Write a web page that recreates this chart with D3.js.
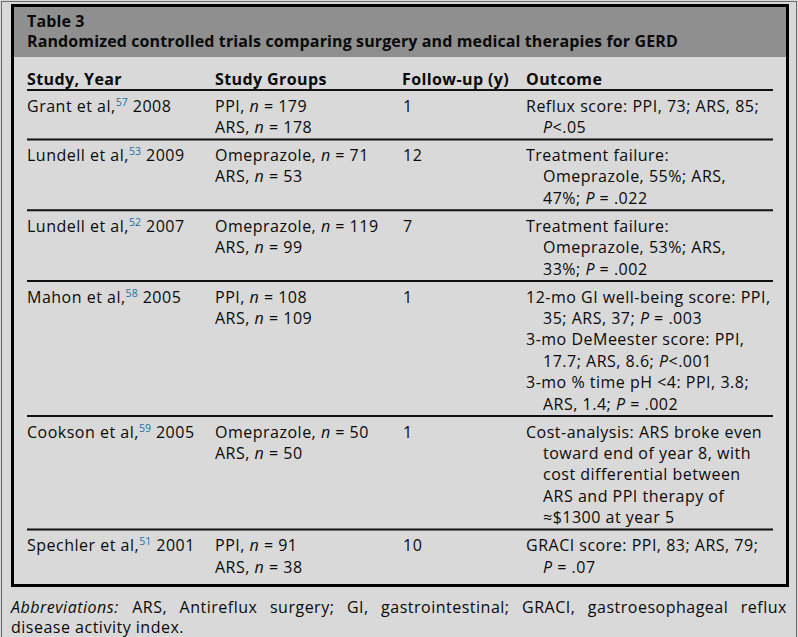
<!DOCTYPE html>
<html>
<head>
<meta charset="utf-8">
<script src="https://cdn.jsdelivr.net/npm/d3@7"></script>
<style>
  html, body { margin: 0; padding: 0; background: #d9d9d9; }
  svg { display: block; }
  text { font-family: "Open Sans", "Noto Sans", sans-serif; fill: #0a0a0a; }
</style>
</head>
<body>
<svg id="chart" width="798" height="637"></svg>
<script>
// ---- data ----
const tableLabel = "Table 3";
const tableTitle = "Randomized controlled trials comparing surgery and medical therapies for GERD";
const columns = ["Study, Year", "Study Groups", "Follow-up (y)", "Outcome"];
const studies = ["Grant et al,^57^ 2008", "Lundell et al,^53^ 2009", "Lundell et al,^52^ 2007",
                 "Mahon et al,^58^ 2005", "Cookson et al,^59^ 2005", "Spechler et al,^51^ 2001"];
const groups = [
  ["PPI, _n_ = 179", "ARS, _n_ = 178"],
  ["Omeprazole, _n_ = 71", "ARS, _n_ = 53"],
  ["Omeprazole, _n_ = 119", "ARS, _n_ = 99"],
  ["PPI, _n_ = 108", "ARS, _n_ = 109"],
  ["Omeprazole, _n_ = 50", "ARS, _n_ = 50"],
  ["PPI, _n_ = 91", "ARS, _n_ = 38"]
];
const followUp = ["1", "12", "7", "1", "1", "10"];
// each outcome: list of paragraphs; each paragraph: list of wrapped lines (hanging indent)
const outcomes = [
  [["Reflux score: PPI, 73; ARS, 85;", "_P_<.05"]],
  [["Treatment failure:", "Omeprazole, 55%; ARS,", "47%; _P_ = .022"]],
  [["Treatment failure:", "Omeprazole, 53%; ARS,", "33%; _P_ = .002"]],
  [["12-mo GI well-being score: PPI,", "35; ARS, 37; _P_ = .003"],
   ["3-mo DeMeester score: PPI,", "17.7; ARS, 8.6; _P_<.001"],
   ["3-mo % time pH <4: PPI, 3.8;", "ARS, 1.4; _P_ = .002"]],
  [["Cost-analysis: ARS broke even", "toward end of year 8, with", "cost differential between", "ARS and PPI therapy of", "\u2248$1300 at year 5"]],
  [["GRACI score: PPI, 83; ARS, 79;", "_P_ = .07"]]
];
const footnoteLines = [
  "_Abbreviations:_ ARS, Antireflux surgery; GI, gastrointestinal; GRACI, gastroesophageal reflux",
  "disease activity index."
];

// ---- layout ----
const W = 798, H = 637;
const svg = d3.select("#chart");
const FS = 16, LS = 0.5, LH = 21.4, PRE = 21.5, POST = 6.5;
const colX = d3.scaleOrdinal().domain(columns).range([27, 215, 402, 526]);
const indent = 17;
const lineX0 = 27, lineX1 = 773;

svg.append("rect").attr("x", 0).attr("y", 0).attr("width", W).attr("height", H).attr("fill", "#d9d9d9");
svg.append("rect").attr("x", 1.5).attr("y", 1.5).attr("width", W - 3).attr("height", H + 10)
  .attr("fill", "none").attr("stroke", "#6a6a6a").attr("stroke-width", 1);
// title band
svg.append("rect").attr("x", 12).attr("y", 5).attr("width", 775).attr("height", 52).attr("fill", "#8f8f8f");

function txt(parent, x, y, opts = {}) {
  return parent.append("text").attr("x", x).attr("y", y)
    .attr("font-size", opts.size || FS)
    .attr("letter-spacing", opts.ls != null ? opts.ls : LS)
    .attr("font-weight", opts.bold ? "bold" : null);
}

function rich(sel, str) {
  const parts = str.split(/(_[^_]+_|\^[^^]+\^)/).filter(s => s.length);
  let raised = false;
  parts.forEach(p => {
    const t = sel.append("tspan");
    if (p.startsWith("_")) {
      t.text(p.slice(1, -1)).attr("font-style", "italic");
      if (raised) { t.attr("dy", 6); raised = false; }
    } else if (p.startsWith("^")) {
      t.text(p.slice(1, -1)).attr("font-size", 10.5).attr("letter-spacing", 0.2).attr("dy", -6).style("fill", "#1f6fa6");
      raised = true;
    } else {
      t.text(p);
      if (raised) { t.attr("dy", 6); raised = false; }
    }
  });
  return sel;
}

const g = svg.append("g");
txt(g, 27, 26.5, { size: 16, bold: true, ls: 0.12 }).text(tableLabel);
txt(g, 27, 46.5, { size: 16, bold: true, ls: 0.12 }).text(tableTitle);

// header
columns.forEach(c => txt(g, colX(c), 85, { bold: true, ls: 0.4 }).text(c));
g.append("line").attr("x1", lineX0).attr("x2", lineX1).attr("y1", 90).attr("y2", 90)
  .attr("stroke", "#111").attr("stroke-width", 2);

// rows
let rowTop = 90;
studies.forEach((s, i) => {
  const outLines = [];
  outcomes[i].forEach(par => par.forEach((l, j) => outLines.push({ text: l, ind: j > 0 })));
  const n = Math.max(outLines.length, groups[i].length, 1);
  const base = rowTop + PRE;
  const row = g.append("g");
  rich(txt(row, colX(columns[0]), base), s);
  groups[i].forEach((gr, k) => rich(txt(row, colX(columns[1]), base + k * LH), gr));
  txt(row, colX(columns[2]) + 1, base).text(followUp[i]);
  outLines.forEach((ol, k) => rich(txt(row, colX(columns[3]) + (ol.ind ? indent : 0), base + k * LH), ol.text));
  const bottom = base + (n - 1) * LH + POST;
  if (i < studies.length - 1) {
    g.append("line").attr("x1", lineX0).attr("x2", lineX1).attr("y1", bottom).attr("y2", bottom)
      .attr("stroke", "#111").attr("stroke-width", 2);
  }
  rowTop = bottom;
});

// thick border
svg.append("rect").attr("x", 12.5).attr("y", 5.5).attr("width", 775).attr("height", 580)
  .attr("fill", "none").attr("stroke", "#000").attr("stroke-width", 3);

// footnote (line 1 justified)
const fnY = [613, 633];
const fnX0 = 11, fnX1 = 787;
footnoteLines.forEach((line, li) => {
  if (li === 0) {
    const words = line.split(" ");
    const tmp = words.map(w => rich(txt(svg, 0, fnY[li]), w));
    const widths = tmp.map(t => t.node().getBBox().width);
    const total = d3.sum(widths);
    const gap = (fnX1 - fnX0 - total) / (words.length - 1);
    let x = fnX0;
    tmp.forEach((t, k) => { t.attr("x", x); x += widths[k] + gap; });
  } else {
    rich(txt(svg, fnX0, fnY[li]), line);
  }
});
</script>
</body>
</html>
